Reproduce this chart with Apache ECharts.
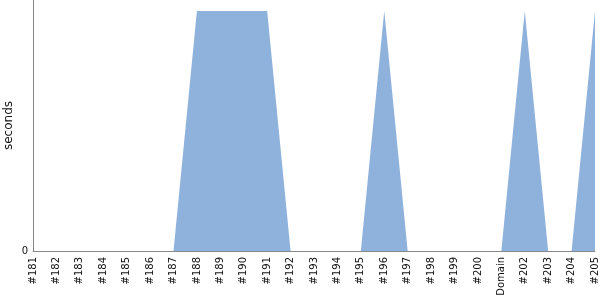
<!DOCTYPE html>
<html><head><meta charset="utf-8">
<script src="https://cdn.jsdelivr.net/npm/echarts@6/dist/echarts.min.js"></script>
<style>html,body{margin:0;padding:0;background:#fff}#c{width:600px;height:300px}</style>
</head><body><div id="c"></div>
<script>
const categories = ['#181','#182','#183','#184','#185','#186','#187','#188','#189','#190','#191','#192','#193','#194','#195','#196','#197','#198','#199','#200','Domain','#202','#203','#204','#205'];
const seconds = [0,0,0,0,0,0,0,1,1,1,1,0,0,0,0,1,0,0,0,0,0,1,0,0,1];
const yMax = 1.046;

const chart = echarts.init(document.getElementById('c'), null, {renderer:'canvas'});
chart.setOption({
  animation: false,
  grid: {left: 33, right: 5, top: 0, bottom: 49, containLabel: false, outerBoundsMode: 'none'},
  xAxis: {
    type: 'category', data: categories, boundaryGap: false,
    axisLine: {lineStyle: {color: '#888', width: 1}},
    axisTick: {show: false},
    axisLabel: {rotate: 90, interval: 0, color: '#111', fontFamily: 'DejaVu Sans', fontSize: 10, margin: 6}
  },
  yAxis: {
    type: 'value', min: 0, max: yMax,
    name: 'seconds', nameLocation: 'middle', nameGap: 18, nameMoveOverlap: false,
    nameTextStyle: {color: '#111', fontFamily: 'DejaVu Sans', fontSize: 12},
    axisLine: {show: true, lineStyle: {color: '#888', width: 1}},
    axisTick: {show: false},
    splitLine: {show: false},
    axisLabel: {color: '#111', fontFamily: 'DejaVu Sans', fontSize: 10, margin: 5,
      formatter: v => v === 0 ? '0' : ''}
  },
  series: [{
    type: 'line', data: seconds, symbol: 'none',
    lineStyle: {width: 0},
    areaStyle: {color: '#8fb2dc', opacity: 1}
  }]
});
</script></body></html>
